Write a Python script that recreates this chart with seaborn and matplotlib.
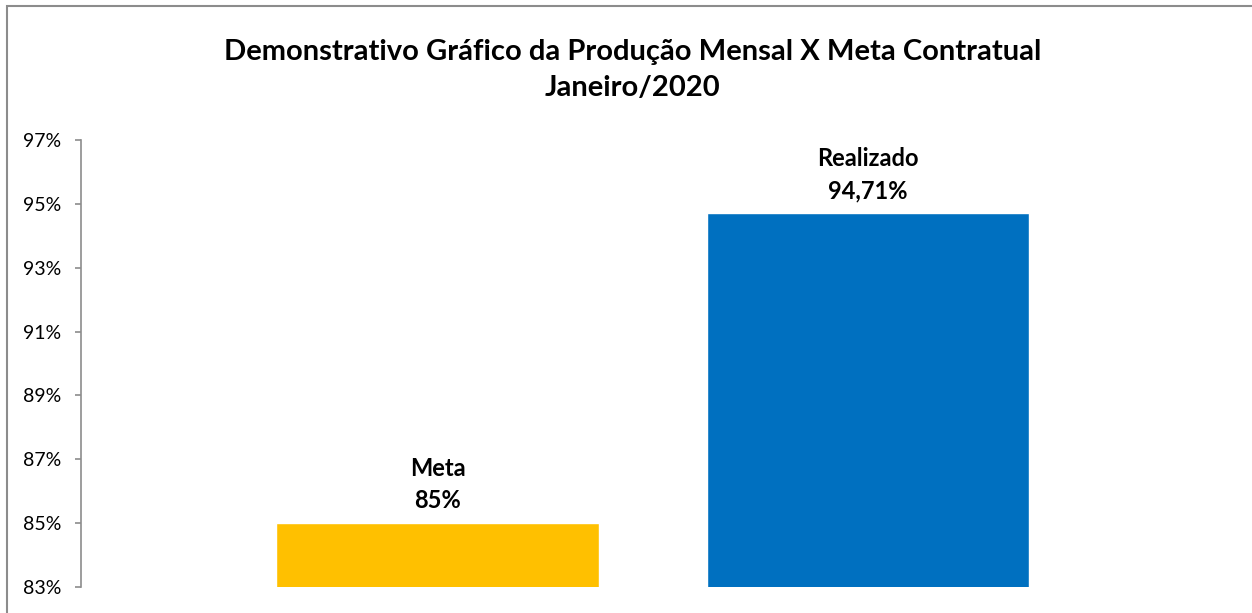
import matplotlib
matplotlib.use("Agg")
import matplotlib.pyplot as plt
import seaborn as sns
import pandas as pd
from matplotlib.patches import Rectangle
from matplotlib.ticker import FuncFormatter

# --- dados ---
categorias = ["Meta", "Realizado"]
valores = [85.0, 94.71]
cores = ["#FFC000", "#0070C0"]
ticks_y = [83, 85, 87, 89, 91, 93, 95, 97]
titulo = "Demonstrativo Gráfico da Produção Mensal X Meta Contratual\nJaneiro/2020"

df = pd.DataFrame({"Categoria": categorias, "Valor": valores})

sns.set_style("white")
plt.rcParams["font.family"] = ["Lato", "DejaVu Sans"]
plt.rcParams["text.color"] = "black"
plt.rcParams["ytick.labelcolor"] = "black"

W, H = 1252, 613
fig = plt.figure(figsize=(W / 100, H / 100), dpi=100)

# moldura cinza (cortada à direita e embaixo como na imagem)
fig.patches.append(Rectangle((7 / W, -0.1), 1.2, 1 - 6 / H + 0.1, transform=fig.transFigure,
                             fill=False, edgecolor="#8c8c8c", linewidth=1.5))

ax = fig.add_axes([81 / W, 26 / H, (W - 81) / W, (587 - 140) / H])
sns.barplot(data=df, x="Categoria", y="Valor", hue="Categoria", palette=cores,
            width=0.75, saturation=1, legend=False, ax=ax)

ax.set_ylim(83, 97)
ax.set_xlim(-0.828, 1.892)
ax.set_yticks(ticks_y)
ax.yaxis.set_major_formatter(FuncFormatter(lambda v, p: f"{v:.0f}%"))
ax.tick_params(axis="y", direction="out", length=4.5, width=1.2, color="#8c8c8c",
               labelsize=14, labelcolor="black", pad=9.5, left=True)
ax.set_xticks([])
ax.set_xlabel("")
ax.set_ylabel("")
for s in ["top", "right", "bottom"]:
    ax.spines[s].set_visible(False)
ax.spines["left"].set_color("#8c8c8c")
ax.spines["left"].set_linewidth(1.2)

# rótulos acima das barras
for i, (c, v) in enumerate(zip(categorias, valores)):
    txt = f"{v:.2f}".replace(".", ",").rstrip("0").rstrip(",")
    ax.annotate(f"{c}\n{txt}%", (i, v), xytext=(0, 8), textcoords="offset points",
                ha="center", va="bottom", fontsize=17, fontweight="bold",
                linespacing=1.45, annotation_clip=False, color="black")

fig.text(0.505, 1 - 70 / H, titulo, ha="center", va="center", fontsize=21,
         fontweight="bold", linespacing=1.5, color="black")

fig.savefig("out.png", dpi=100)
